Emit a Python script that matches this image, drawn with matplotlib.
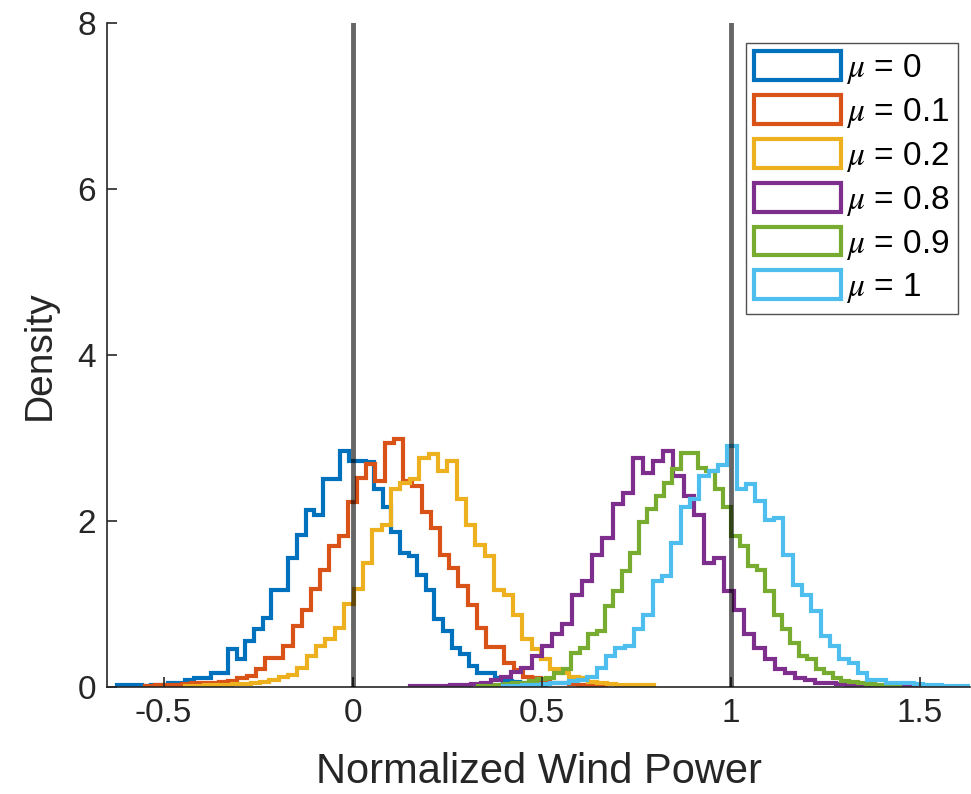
import numpy as np
import matplotlib
matplotlib.use("Agg")
import matplotlib.pyplot as plt
from matplotlib.patches import Patch

plt.rcParams['font.family'] = ['Liberation Sans', 'DejaVu Sans']
plt.rcParams['mathtext.fontset'] = 'stix'
plt.rcParams['axes.unicode_minus'] = False

# legend labels and colours (MATLAB default order)
mu_labels = [r'$\mu$ = 0', r'$\mu$ = 0.1', r'$\mu$ = 0.2',
             r'$\mu$ = 0.8', r'$\mu$ = 0.9', r'$\mu$ = 1']
colors = ['#0072BD', '#D95319', '#EDB120', '#7E2F8E', '#77AC30', '#4DBEEE']

# first bin edge and bin width of each histogram (50 bins each)
bin_start = [-0.6243, -0.5481, -0.4437, 0.1516, 0.3328, 0.3984]
bin_width = [0.02272, 0.02434, 0.02479, 0.0268, 0.0223, 0.02468]

# pdf-normalised densities
dens_mu0 = [0.02, 0.02, 0.02, 0.01, 0.02, 0.02, 0.04, 0.04, 0.08, 0.10,
            0.10, 0.17, 0.17, 0.45, 0.33, 0.55, 0.69, 0.83, 1.17, 1.17,
            1.55, 1.83, 2.13, 2.07, 2.50, 2.50, 2.84, 2.72, 2.72, 2.71,
            2.38, 2.17, 1.87, 1.61, 1.57, 1.35, 1.17, 0.81, 0.67, 0.47,
            0.39, 0.25, 0.17, 0.16, 0.10, 0.07, 0.06, 0.04, 0.03, 0.02]
dens_mu01 = [0.01, 0.02, 0.02, 0.02, 0.03, 0.04, 0.04, 0.05, 0.06, 0.07,
             0.10, 0.13, 0.21, 0.35, 0.35, 0.49, 0.73, 0.93, 1.18, 1.41,
             1.69, 1.81, 2.22, 2.52, 2.68, 2.48, 2.94, 2.98, 2.48, 2.42,
             2.10, 1.91, 1.59, 1.43, 1.21, 0.99, 0.71, 0.48, 0.48, 0.29,
             0.20, 0.12, 0.10, 0.07, 0.05, 0.05, 0.03, 0.02, 0.02, 0.01]
dens_mu02 = [0.01, 0.01, 0.02, 0.02, 0.02, 0.03, 0.03, 0.04, 0.06, 0.08,
             0.12, 0.14, 0.23, 0.37, 0.49, 0.57, 0.71, 1.00, 1.18, 1.49,
             1.89, 1.95, 2.38, 2.46, 2.50, 2.76, 2.80, 2.60, 2.72, 2.26,
             1.95, 1.71, 1.57, 1.17, 1.11, 0.87, 0.57, 0.45, 0.33, 0.21,
             0.17, 0.12, 0.10, 0.06, 0.05, 0.03, 0.02, 0.02, 0.02, 0.02]
dens_mu08 = [0.01, 0.01, 0.01, 0.01, 0.02, 0.02, 0.03, 0.05, 0.08, 0.12,
             0.18, 0.23, 0.37, 0.49, 0.63, 0.75, 1.11, 1.27, 1.59, 1.79,
             2.20, 2.34, 2.76, 2.58, 2.72, 2.84, 2.54, 2.30, 2.07, 1.49,
             1.55, 1.15, 0.93, 0.63, 0.47, 0.33, 0.21, 0.17, 0.10, 0.08,
             0.05, 0.04, 0.03, 0.02, 0.02, 0.02, 0.01, 0.01, 0.01, 0.01]
dens_mu09 = [0.01, 0.01, 0.02, 0.03, 0.04, 0.05, 0.07, 0.09, 0.10, 0.17,
             0.21, 0.41, 0.47, 0.63, 0.67, 0.97, 1.15, 1.39, 1.61, 1.99,
             2.14, 2.30, 2.46, 2.62, 2.82, 2.82, 2.64, 2.60, 2.38, 2.16,
             1.81, 1.69, 1.45, 1.41, 1.15, 0.87, 0.69, 0.53, 0.37, 0.33,
             0.21, 0.17, 0.10, 0.07, 0.06, 0.05, 0.03, 0.02, 0.02, 0.01]
dens_mu1 = [0.01, 0.01, 0.02, 0.02, 0.03, 0.04, 0.05, 0.07, 0.08, 0.12,
            0.23, 0.37, 0.47, 0.49, 0.69, 0.87, 1.27, 1.33, 1.73, 2.16,
            2.26, 2.54, 2.60, 2.67, 2.90, 2.38, 2.44, 2.24, 2.01, 2.03,
            1.59, 1.23, 1.11, 0.91, 0.61, 0.49, 0.33, 0.29, 0.17, 0.08,
            0.08, 0.05, 0.04, 0.04, 0.03, 0.02, 0.02, 0.01, 0.01, 0.01]
densities = [dens_mu0, dens_mu01, dens_mu02, dens_mu08, dens_mu09, dens_mu1]

bounds = [0, 1]
x_ticks = [-0.5, 0, 0.5, 1, 1.5]
x_ticklabels = ['-0.5', '0', '0.5', '1', '1.5']
y_ticks = [0, 2, 4, 6, 8]

axis_color = '#262626'

fig = plt.figure(figsize=(9.71, 7.94), dpi=100)
ax = fig.add_axes([0.1105, 0.1351, 0.8885, 0.8363])

handles = []
for d, s, w, c, lab in zip(densities, bin_start, bin_width, colors, mu_labels):
    edges = s + w * np.arange(len(d) + 1)
    ax.stairs(d, edges, color=c, linewidth=3, baseline=0)
    handles.append(Patch(facecolor='white', edgecolor=c, linewidth=3, label=lab))

for b in bounds:
    ax.axvline(b, color='k', alpha=0.6, linewidth=3.5, zorder=5)

ax.set_xlim(-0.649, 1.633)
ax.set_ylim(0, 8)
ax.set_xticks(x_ticks)
ax.set_xticklabels(x_ticklabels)
ax.set_yticks(y_ticks)

for side in ['top', 'right']:
    ax.spines[side].set_visible(False)
for side in ['left', 'bottom']:
    ax.spines[side].set_color(axis_color)
    ax.spines[side].set_linewidth(1.2)

ax.tick_params(direction='in', length=7, width=1.2, colors=axis_color,
               labelsize=24, pad=8)
ax.set_xlabel('Normalized Wind Power', fontsize=30, color=axis_color, labelpad=17)
ax.set_ylabel('Density', fontsize=28, color=axis_color, labelpad=14)

leg = ax.legend(handles=handles, loc='upper right',
                bbox_to_anchor=(958 / 971, 1 - 43 / 794),
                bbox_transform=fig.transFigure,
                fontsize=24, frameon=True, fancybox=False,
                handlelength=2.6, handleheight=0.95, handletextpad=0.15,
                labelspacing=0.27, borderpad=0.25, borderaxespad=0)
leg.get_frame().set_edgecolor(axis_color)
leg.get_frame().set_linewidth(1.0)

fig.savefig('out.png', dpi=100)
